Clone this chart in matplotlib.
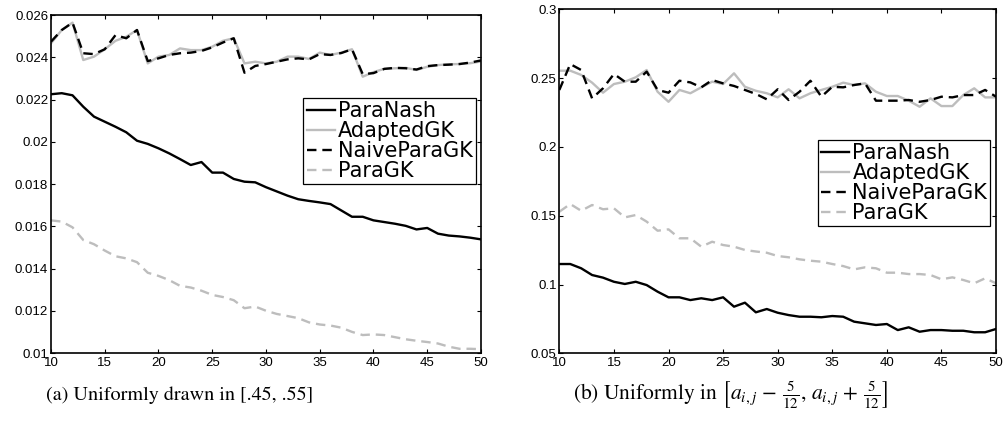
#!/usr/bin/env python3
"""
Plot running time of ParaNash against the GK variants for two input distributions
"""
import matplotlib
matplotlib.use("Agg")
import matplotlib.pyplot as plt
from matplotlib import font_manager

# number of players / actions on the x axis
sizes = list(range(10, 51))

# (a) payoffs uniformly drawn in [.45, .55]
a_paranash = [0.02225, 0.02230, 0.02220, 0.02166, 0.02119, 0.02095, 0.02071, 0.02045, 0.02005, 0.01990,
              0.01969, 0.01945, 0.01918, 0.01890, 0.01904, 0.01854, 0.01854, 0.01824, 0.01811, 0.01808,
              0.01785, 0.01765, 0.01745, 0.01728, 0.01720, 0.01713, 0.01705, 0.01675, 0.01645, 0.01645,
              0.01628, 0.01620, 0.01612, 0.01602, 0.01585, 0.01592, 0.01565, 0.01556, 0.01552, 0.01546,
              0.01538]
a_adaptedgk = [0.02466, 0.02529, 0.02564, 0.02387, 0.02403, 0.02438, 0.02478, 0.02497, 0.02529, 0.02371,
               0.02403, 0.02411, 0.02442, 0.02434, 0.02434, 0.02450, 0.02478, 0.02490, 0.02371, 0.02379,
               0.02371, 0.02379, 0.02403, 0.02403, 0.02392, 0.02422, 0.02411, 0.02422, 0.02438, 0.02308,
               0.02330, 0.02345, 0.02348, 0.02350, 0.02340, 0.02355, 0.02363, 0.02367, 0.02368, 0.02372,
               0.02380]
a_naiveparagk = [0.02474, 0.02529, 0.02564, 0.02419, 0.02415, 0.02438, 0.02505, 0.02490, 0.02529, 0.02382,
                 0.02395, 0.02411, 0.02419, 0.02422, 0.02430, 0.02447, 0.02470, 0.02490, 0.02327, 0.02359,
                 0.02368, 0.02379, 0.02390, 0.02395, 0.02390, 0.02415, 0.02411, 0.02420, 0.02438, 0.02320,
                 0.02325, 0.02345, 0.02350, 0.02348, 0.02342, 0.02358, 0.02363, 0.02365, 0.02368, 0.02375,
                 0.02385]
a_paragk = [0.01628, 0.01622, 0.01595, 0.01535, 0.01515, 0.01485, 0.01458, 0.01448, 0.01430, 0.01380,
            0.01365, 0.01345, 0.01318, 0.01310, 0.01295, 0.01275, 0.01265, 0.01250, 0.01212, 0.01220,
            0.01200, 0.01185, 0.01175, 0.01165, 0.01145, 0.01135, 0.01130, 0.01120, 0.01100, 0.01085,
            0.01088, 0.01085, 0.01075, 0.01065, 0.01058, 0.01052, 0.01045, 0.01030, 0.01020, 0.01020,
            0.01018]

# (b) payoffs uniformly in [a_ij - 5/12, a_ij + 5/12]
b_paranash = [0.1149, 0.1149, 0.1118, 0.1069, 0.1050, 0.1020, 0.1004, 0.1020, 0.0996, 0.0948,
              0.0907, 0.0907, 0.0887, 0.0900, 0.0887, 0.0907, 0.0839, 0.0868, 0.0798, 0.0822,
              0.0795, 0.0778, 0.0766, 0.0766, 0.0762, 0.0771, 0.0766, 0.0730, 0.0718, 0.0706,
              0.0713, 0.0669, 0.0689, 0.0657, 0.0669, 0.0669, 0.0664, 0.0664, 0.0653, 0.0653,
              0.0677]
b_adaptedgk = [0.2554, 0.2554, 0.2523, 0.2467, 0.2394, 0.2457, 0.2474, 0.2506, 0.2559, 0.2401,
               0.2328, 0.2414, 0.2390, 0.2433, 0.2474, 0.2457, 0.2535, 0.2437, 0.2408, 0.2390,
               0.2360, 0.2419, 0.2353, 0.2390, 0.2414, 0.2437, 0.2467, 0.2450, 0.2462, 0.2401,
               0.2370, 0.2370, 0.2336, 0.2292, 0.2353, 0.2297, 0.2297, 0.2377, 0.2426, 0.2360,
               0.2360]
b_naiveparagk = [0.2414, 0.2602, 0.2559, 0.2353, 0.2426, 0.2530, 0.2474, 0.2474, 0.2547, 0.2414,
                 0.2394, 0.2481, 0.2469, 0.2433, 0.2486, 0.2462, 0.2443, 0.2414, 0.2385, 0.2346,
                 0.2419, 0.2341, 0.2401, 0.2481, 0.2365, 0.2437, 0.2433, 0.2450, 0.2462, 0.2336,
                 0.2336, 0.2336, 0.2341, 0.2328, 0.2341, 0.2365, 0.2360, 0.2377, 0.2377, 0.2414,
                 0.2365]
b_paragk = [0.1529, 0.1585, 0.1536, 0.1578, 0.1547, 0.1554, 0.1488, 0.1505, 0.1457, 0.1391,
            0.1401, 0.1336, 0.1336, 0.1275, 0.1311, 0.1287, 0.1275, 0.1251, 0.1240, 0.1231,
            0.1207, 0.1198, 0.1183, 0.1173, 0.1166, 0.1149, 0.1134, 0.1110, 0.1125, 0.1118,
            0.1086, 0.1086, 0.1076, 0.1076, 0.1069, 0.1038, 0.1052, 0.1033, 0.1009, 0.1045,
            0.1009]

a_yticks = [0.01, 0.012, 0.014, 0.016, 0.018, 0.02, 0.022, 0.024, 0.026]
b_yticks = [0.05, 0.1, 0.15, 0.2, 0.25, 0.3]
xticks = [10, 15, 20, 25, 30, 35, 40, 45, 50]

caption_a = "(a) Uniformly drawn in [.45, .55]"
caption_b = r"(b) Uniformly in $\left[a_{i,j}\, -\, \frac{5}{12},\, a_{i,j}\, +\, \frac{5}{12}\right]$"

GRAY = "#bdbdbd"

installed = {f.name for f in font_manager.fontManager.ttflist}
narrow = "Liberation Sans Narrow" if "Liberation Sans Narrow" in installed else "Liberation Sans"

plt.rcParams["mathtext.fontset"] = "stix"


def draw_panel(ax, paranash, adaptedgk, naiveparagk, paragk, yticks, legend_anchor):
    ax.plot(sizes, paranash, color="black", linewidth=1.7, label="ParaNash")
    ax.plot(sizes, adaptedgk, color=GRAY, linewidth=1.7, label="AdaptedGK")
    ax.plot(sizes, naiveparagk, color="black", linewidth=1.7, linestyle=(0, (4, 2.5)), label="NaiveParaGK")
    ax.plot(sizes, paragk, color=GRAY, linewidth=1.7, linestyle=(0, (4, 2.5)), label="ParaGK")

    ax.set_xlim(10, 50)
    ax.set_ylim(yticks[0], yticks[-1])
    ax.set_xticks(xticks)
    ax.set_yticks(yticks)
    ax.set_yticklabels([f"{t:g}" for t in yticks], family="Liberation Sans", fontsize=9.5)
    ax.set_xticklabels([str(t) for t in xticks], family=narrow, fontsize=9.5)
    ax.tick_params(direction="in", length=3, width=0.8, top=True, right=True)
    ax.tick_params(axis="y", pad=2)
    ax.tick_params(axis="x", pad=3)
    for spine in ax.spines.values():
        spine.set_linewidth(1.2)

    leg = ax.legend(loc="upper right", bbox_to_anchor=legend_anchor,
                    prop={"family": "DejaVu Sans", "size": 15},
                    handlelength=1.35, handletextpad=0.15, labelspacing=0.0,
                    borderpad=0.15, borderaxespad=0.0, fancybox=False, framealpha=1.0)
    leg.get_frame().set_edgecolor("black")
    leg.get_frame().set_linewidth(0.9)


fig = plt.figure(figsize=(10.06, 4.46), dpi=100)
ax_a = fig.add_axes([0.0507, 0.2085, 0.4274, 0.7578])
ax_b = fig.add_axes([0.556, 0.2078, 0.4341, 0.7713])

draw_panel(ax_a, a_paranash, a_adaptedgk, a_naiveparagk, a_paragk, a_yticks, (0.988, 0.754))
draw_panel(ax_b, b_paranash, b_adaptedgk, b_naiveparagk, b_paragk, b_yticks, (0.987, 0.620))

fig.text(0.179, 0.113, caption_a, ha="center", va="center", family="STIXGeneral", fontsize=14.5)
fig.text(0.726, 0.113, caption_b, ha="center", va="center", family="STIXGeneral", fontsize=15.5)

fig.savefig("out.png", dpi=100)
